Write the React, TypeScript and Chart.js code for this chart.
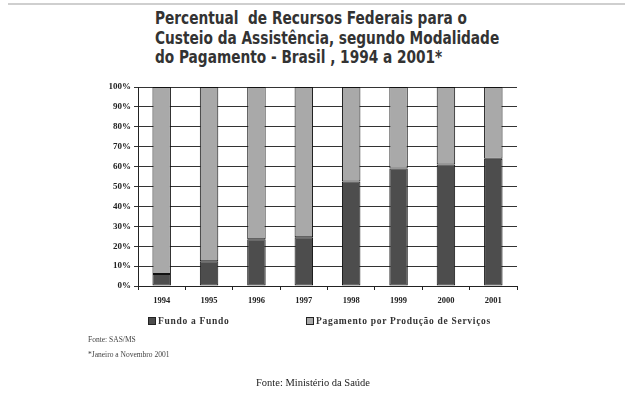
import React, { useEffect, useRef } from "react";
import { Chart, registerables } from "chart.js";

Chart.register(...registerables);

const years = ["1994", "1995", "1996", "1997", "1998", "1999", "2000", "2001"];
const fundoAFundo = [6, 12.5, 23.5, 24.5, 52.5, 59, 61, 64];
const pagamentoProducao = [94, 87.5, 76.5, 75.5, 47.5, 41, 39, 36];
const seriesNames = ["Fundo a Fundo", "Pagamento por Produção de Serviços"];
const seriesColors = ["#4d4d4d", "#a9a9a9"];
const titleLines = [
  "Percentual  de Recursos Federais para o",
  "Custeio da Assistência, segundo Modalidade",
  "do Pagamento - Brasil , 1994 a 2001*",
];

const serif = "'Liberation Serif', 'Times New Roman', serif";

export default function App() {
  const ref = useRef<HTMLCanvasElement | null>(null);

  useEffect(() => {
    if (!ref.current) return;
    const chart = new Chart(ref.current, {
      type: "bar",
      data: {
        labels: years,
        datasets: [
          {
            label: seriesNames[0],
            data: fundoAFundo,
            backgroundColor: seriesColors[0],
            borderColor: "#111",
            borderWidth: 1,
            borderSkipped: false,
            categoryPercentage: 1,
            barPercentage: 0.39,
          },
          {
            label: seriesNames[1],
            data: pagamentoProducao,
            backgroundColor: seriesColors[1],
            borderColor: "#111",
            borderWidth: 1,
            borderSkipped: false,
            categoryPercentage: 1,
            barPercentage: 0.39,
          },
        ],
      },
      options: {
        responsive: false,
        animation: false,
        layout: { padding: { left: 0, top: 87, right: 118, bottom: 78 } },
        plugins: {
          legend: { display: false },
          title: { display: false },
          tooltip: { enabled: false },
        },
        scales: {
          x: {
            stacked: true,
            afterFit: (s: any) => {
              s.height = 30;
            },
            grid: {
              offset: true,
              drawOnChartArea: false,
              drawTicks: true,
              tickLength: 4,
              color: "#222",
            },
            border: { display: true, color: "#222", width: 1 },
            ticks: {
              color: "#222",
              padding: 6,
              font: { family: serif, size: 8.5, weight: "bold" },
            },
          },
          y: {
            stacked: true,
            min: 0,
            max: 100,
            afterFit: (s: any) => {
              s.width = 138;
            },
            grid: {
              color: "#333",
              lineWidth: 1,
              drawTicks: true,
              tickLength: 4,
            },
            border: { display: true, color: "#222", width: 1 },
            ticks: {
              stepSize: 10,
              color: "#222",
              padding: 3,
              font: { family: serif, size: 9, weight: "bold" },
              callback: (v: any) => v + "%",
            },
          },
        },
      },
    });
    return () => chart.destroy();
  }, []);

  return (
    <div
      style={{
        position: "fixed",
        left: 0,
        top: 0,
        width: 635,
        height: 394,
        background: "#fff",
        overflow: "hidden",
      }}
    >
      <div
        style={{
          position: "absolute",
          left: 8,
          top: 3,
          width: 617,
          height: 2,
          background: "#cfcfcf",
        }}
      />
      <div
        style={{
          position: "absolute",
          left: 155,
          top: 9,
          fontFamily: "'DejaVu Sans Condensed', 'DejaVu Sans', sans-serif",
          fontWeight: "bold",
          fontSize: 17.5,
          lineHeight: "19.5px",
          color: "#333",
          whiteSpace: "pre",
          transform: "scaleX(0.87)",
          transformOrigin: "0 0",
        }}
      >
        {titleLines.map((t, i) => (
          <div key={i}>{t}</div>
        ))}
      </div>
      <canvas
        ref={ref}
        width={635}
        height={394}
        style={{ position: "absolute", left: 0, top: 0, width: 635, height: 394 }}
      />
      {seriesNames.map((n, i) => (
        <div
          key={n}
          style={{
            position: "absolute",
            left: i === 0 ? 148 : 306,
            top: 316,
            display: "flex",
            alignItems: "center",
            fontFamily: serif,
            fontWeight: "bold",
            fontSize: 9.5,
            letterSpacing: "0.7px",
            color: "#333",
            whiteSpace: "pre",
          }}
        >
          <span
            style={{
              display: "inline-block",
              width: 6,
              height: 6,
              background: seriesColors[i],
              border: "1px solid #222",
              marginRight: 2,
            }}
          />
          {n}
        </div>
      ))}
      <div
        style={{
          position: "absolute",
          left: 88,
          top: 335,
          fontFamily: serif,
          fontSize: 7.5,
          color: "#444",
        }}
      >
        Fonte: SAS/MS
      </div>
      <div
        style={{
          position: "absolute",
          left: 88,
          top: 350,
          fontFamily: serif,
          fontSize: 7.5,
          color: "#444",
        }}
      >
        *Janeiro a Novembro 2001
      </div>
      <div
        style={{
          position: "absolute",
          left: 0,
          width: 626,
          top: 377,
          textAlign: "center",
          fontFamily: serif,
          fontSize: 10.5,
          color: "#222",
        }}
      >
        Fonte: Ministério da Saúde
      </div>
    </div>
  );
}
